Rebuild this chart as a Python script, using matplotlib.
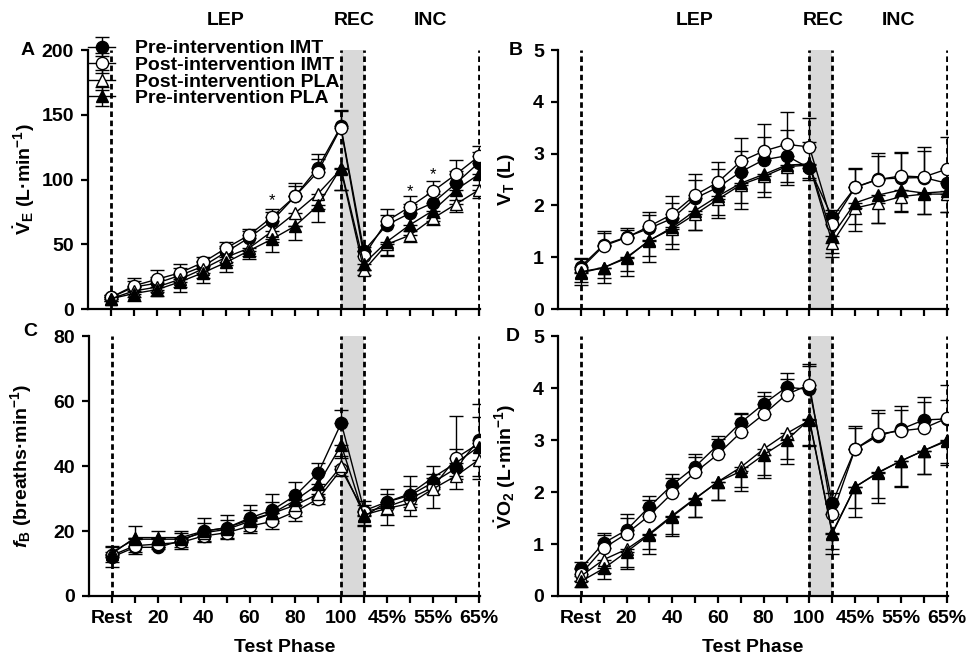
"""Ventilatory responses across test phases, pre/post IMT and PLA (4 panels)."""

import numpy as np
import matplotlib
matplotlib.use("Agg")
import matplotlib.pyplot as plt

plt.rcParams["font.family"] = ["Liberation Sans", "DejaVu Sans"]
plt.rcParams["font.weight"] = "bold"
plt.rcParams["mathtext.fontset"] = "custom"
plt.rcParams["mathtext.rm"] = "Liberation Sans:bold"
plt.rcParams["mathtext.it"] = "Liberation Sans:italic:bold"
plt.rcParams["mathtext.bf"] = "Liberation Sans:bold"
plt.rcParams["mathtext.default"] = "rm"

# x positions: Rest, 10..100, recovery, 40%..65%
tick_labels = ["Rest", "", "20", "", "40", "", "60", "", "80", "", "100",
               "", "45%", "", "55%", "", "65%"]
phase_names = ["LEP", "REC", "INC"]
phase_pos = [5.0, 10.6, 13.9]
series_names = ["Pre-intervention IMT", "Post-intervention IMT",
                "Post-intervention PLA", "Pre-intervention PLA"]

# panel A: minute ventilation (L/min)
ve_pre_imt = [9, 17, 20, 26, 33, 44, 55, 68, 87, 109, 141, 45, 65, 74, 82, 97, 113]
ve_post_imt = [9, 18, 23, 28, 36, 47, 57, 71, 87, 106, 140, 41, 68, 79, 91, 104, 118]
ve_post_pla = [8, 14, 17, 23, 31, 40, 47, 60, 74, 89, 108, 30, 50, 57, 70, 81, 92]
ve_pre_pla = [8, 12, 15, 21, 28, 36, 45, 54, 64, 80, 109, 35, 52, 65, 76, 92, 104]
ve_err_pre_imt = [2, 5, 5, 6, 4, 5, 5, 7, 10, 11, 12, 3, 8, 7, 7, 10, 8]
ve_err_post_imt = [2, 6, 7, 7, 4, 5, 5, 6, 8, 10, 14, 4, 9, 8, 8, 11, 8]
ve_err_post_pla = [2, 5, 4, 6, 7, 6, 6, 8, 10, 12, 16, 4, 8, 5, 5, 6, 6]
ve_err_pre_pla = [2, 6, 5, 8, 8, 7, 6, 10, 11, 13, 17, 5, 11, 5, 8, 8, 8]
ve_star_x = [7, 13, 14]
ve_star_y = [84, 91, 104]

# panel B: tidal volume (L)
vt_pre_imt = [0.82, 1.24, 1.39, 1.56, 1.75, 2.14, 2.35, 2.65, 2.88, 2.96, 2.72,
              1.77, 2.35, 2.51, 2.53, 2.54, 2.43]
vt_post_imt = [0.78, 1.22, 1.38, 1.6, 1.83, 2.2, 2.45, 2.85, 3.05, 3.18, 3.13,
               1.65, 2.35, 2.5, 2.57, 2.55, 2.7]
vt_post_pla = [0.72, 0.8, 0.98, 1.33, 1.55, 1.83, 2.12, 2.4, 2.56, 2.75, 2.78,
               1.28, 1.95, 2.05, 2.17, 2.22, 2.22]
vt_pre_pla = [0.7, 0.8, 1.0, 1.32, 1.58, 1.9, 2.18, 2.43, 2.6, 2.78, 2.8,
              1.42, 2.05, 2.2, 2.3, 2.24, 2.27]
vt_err_pre_imt = [0.15, 0.27, 0.17, 0.25, 0.3, 0.35, 0.35, 0.4, 0.45, 0.5, 0.5,
                  0.15, 0.37, 0.5, 0.5, 0.58, 0.3]
vt_err_post_imt = [0.2, 0.25, 0.15, 0.28, 0.35, 0.41, 0.38, 0.45, 0.52, 0.62, 0.55,
                   0.2, 0.35, 0.45, 0.45, 0.5, 0.63]
vt_err_post_pla = [0.2, 0.2, 0.25, 0.3, 0.3, 0.3, 0.3, 0.35, 0.3, 0.3, 0.25,
                   0.2, 0.3, 0.38, 0.28, 0.38, 0.35]
vt_err_pre_pla = [0.23, 0.3, 0.36, 0.42, 0.42, 0.37, 0.43, 0.5, 0.43, 0.38, 0.3,
                  0.42, 0.55, 0.53, 0.42, 0.4, 0.4]

# panel C: breathing frequency (breaths/min)
fb_pre_imt = [12, 15, 15, 17, 20, 21, 24, 26.5, 31, 38, 53.3, 26.3, 29, 31, 35, 39.3, 48.2]
fb_post_imt = [12.5, 15.5, 16, 16.5, 18.5, 19.5, 21.5, 23, 26, 30, 39, 26, 27.5, 30,
               33.5, 42.5, 47]
fb_post_pla = [13.5, 17.5, 17.5, 17.5, 19.5, 20.5, 23, 25.5, 28, 31.5, 40, 25, 27,
               28.5, 33, 37, 42]
fb_pre_pla = [13, 18, 18, 18, 20, 21, 23.5, 25.5, 29.5, 34.5, 46.5, 24.5, 29, 31.5,
              36.5, 41, 46]
fb_err_pre_imt = [3, 3, 3, 3, 4, 4, 4, 5, 4, 3, 4, 3, 4, 6, 5, 6, 11]
fb_err_post_imt = [3, 6, 4, 3, 4, 4, 5, 6, 4, 3, 4, 2, 4, 4, 4, 13, 8]
fb_err_post_pla = [3, 4, 3, 3, 3, 3, 3, 3, 5, 3, 3, 3, 5, 4, 6, 4, 6]
fb_err_pre_pla = [4, 5, 3, 3, 3, 3, 4, 5, 5, 4, 4, 3, 4, 4, 5, 5, 9]

# panel D: oxygen uptake (L/min)
vo_pre_imt = [0.53, 1.02, 1.27, 1.72, 2.14, 2.49, 2.91, 3.34, 3.7, 4.02, 3.98,
              1.79, 2.83, 3.08, 3.21, 3.39, 3.41]
vo_post_imt = [0.42, 0.92, 1.2, 1.55, 1.98, 2.38, 2.73, 3.15, 3.5, 3.88, 4.07,
               1.57, 2.83, 3.12, 3.18, 3.23, 3.42]
vo_post_pla = [0.38, 0.7, 0.9, 1.2, 1.55, 1.88, 2.2, 2.48, 2.83, 3.13, 3.38,
               1.2, 2.1, 2.38, 2.6, 2.8, 2.98]
vo_pre_pla = [0.28, 0.53, 0.85, 1.18, 1.53, 1.87, 2.2, 2.4, 2.72, 3.0, 3.4,
              1.22, 2.1, 2.37, 2.6, 2.8, 3.0]
vo_err_pre_imt = [0.12, 0.2, 0.3, 0.2, 0.2, 0.25, 0.17, 0.18, 0.22, 0.28, 0.45,
                  0.2, 0.45, 0.5, 0.45, 0.45, 0.65]
vo_err_post_imt = [0.1, 0.25, 0.3, 0.3, 0.3, 0.3, 0.3, 0.35, 0.35, 0.3, 0.4,
                   0.2, 0.4, 0.4, 0.4, 0.5, 0.35]
vo_err_post_pla = [0.1, 0.25, 0.35, 0.3, 0.35, 0.35, 0.35, 0.38, 0.5, 0.5, 0.5,
                   0.3, 0.4, 0.5, 0.5, 0.45, 0.42]
vo_err_pre_pla = [0.1, 0.2, 0.33, 0.38, 0.38, 0.35, 0.36, 0.38, 0.45, 0.45, 0.5,
                  0.42, 0.57, 0.57, 0.48, 0.45, 0.48]

x = np.arange(len(tick_labels))
FS = 14

fig = plt.figure(figsize=(9.72, 6.59), dpi=100)
ax_a = fig.add_axes([0.0905, 0.531, 0.4033, 0.393])
ax_b = fig.add_axes([0.574, 0.531, 0.401, 0.393])
ax_c = fig.add_axes([0.0916, 0.0956, 0.4022, 0.394])
ax_d = fig.add_axes([0.574, 0.0956, 0.401, 0.394])


def draw_panel(ax, vals, errs, ylim, step, ylabel, label_x, letter, letter_xy, bottom):
    """Draw the four groups; circles get upward bars, triangles downward."""
    ax.axvspan(10, 11, color="#d9d9d9", lw=0, zorder=0)
    for xv in [0, 10, 11, 16]:
        ax.axvline(xv, color="black", lw=2.0, ls=(0, (2.0, 1.3)), zorder=1)

    styles = [("o", "black", "up"), ("o", "white", "up"),
              ("^", "white", "down"), ("^", "black", "down")]
    order = [2, 3, 1, 0]
    handles = {}
    for i in order:
        mk, fc, direction = styles[i]
        e = np.array(errs[i])
        z = np.zeros_like(e)
        yerr = [z, e] if direction == "up" else [e, z]
        h = ax.errorbar(x, vals[i], yerr=yerr, fmt="-", marker=mk, ms=8.8,
                        mfc=fc, mec="black", mew=1.0, color="black", lw=1.0,
                        ecolor="black", elinewidth=1.0, capsize=4.8,
                        capthick=1.0, zorder=3 + i * 0.01)
        handles[i] = h

    ax.set_xlim(-1.0, 16.05)
    ax.set_ylim(*ylim)
    ax.set_yticks(np.arange(ylim[0], ylim[1] + step / 2, step))
    ax.set_xticks(x)
    if bottom:
        ax.set_xticklabels(tick_labels)
        ax.set_xlabel("Test Phase", fontsize=FS, fontweight="bold", labelpad=9)
    else:
        ax.set_xticklabels([])
    for side in ["top", "right"]:
        ax.spines[side].set_visible(False)
    for side in ["left", "bottom"]:
        ax.spines[side].set_linewidth(1.6)
    ax.tick_params(direction="out", length=5, width=1.6, labelsize=FS, pad=5)
    ax.set_ylabel(ylabel, fontsize=FS, fontweight="bold")
    ax.yaxis.set_label_coords(label_x, 0.5)
    ax.text(letter_xy[0], letter_xy[1], letter, transform=ax.transAxes,
            fontsize=FS, fontweight="bold", ha="center", va="center")

    if not bottom:
        trans = ax.get_xaxis_transform()
        for name, pos in zip(phase_names, phase_pos):
            ax.text(pos, 1.115, name, transform=trans, fontsize=FS,
                    fontweight="bold", ha="center", va="center")
    return handles


h = draw_panel(ax_a, [ve_pre_imt, ve_post_imt, ve_post_pla, ve_pre_pla],
               [ve_err_pre_imt, ve_err_post_imt, ve_err_post_pla, ve_err_pre_pla],
               (0, 200), 50, r"$\dot{V}_E$ (L·min$^{-1}$)", -0.13, "A",
               (-0.153, 1.0), False)
for sx, sy in zip(ve_star_x, ve_star_y):
    ax_a.text(sx, sy, "*", fontsize=12, fontweight="normal", ha="center", va="center")

draw_panel(ax_b, [vt_pre_imt, vt_post_imt, vt_post_pla, vt_pre_pla],
           [vt_err_pre_imt, vt_err_post_imt, vt_err_post_pla, vt_err_pre_pla],
           (0, 5), 1, r"V$_T$ (L)", -0.105, "B", (-0.108, 1.0), False)
draw_panel(ax_c, [fb_pre_imt, fb_post_imt, fb_post_pla, fb_pre_pla],
           [fb_err_pre_imt, fb_err_post_imt, fb_err_post_pla, fb_err_pre_pla],
           (0, 80), 20, r"$\mathit{f}_B$ (breaths·min$^{-1}$)", -0.14, "C",
           (-0.15, 1.02), True)
draw_panel(ax_d, [vo_pre_imt, vo_post_imt, vo_post_pla, vo_pre_pla],
           [vo_err_pre_imt, vo_err_post_imt, vo_err_post_pla, vo_err_pre_pla],
           (0, 5), 1, r"$\dot{V}$O$_2$ (L·min$^{-1}$)", -0.103, "D",
           (-0.115, 1.0), True)

ax_a.legend([h[0], h[1], h[2], h[3]], series_names, loc="upper left",
            bbox_to_anchor=(0.0, 1.04), frameon=False, fontsize=FS,
            handlelength=1.4, handletextpad=1.0, labelspacing=-0.05,
            borderpad=0.0, borderaxespad=0.0)

fig.savefig("out.png", dpi=100)
